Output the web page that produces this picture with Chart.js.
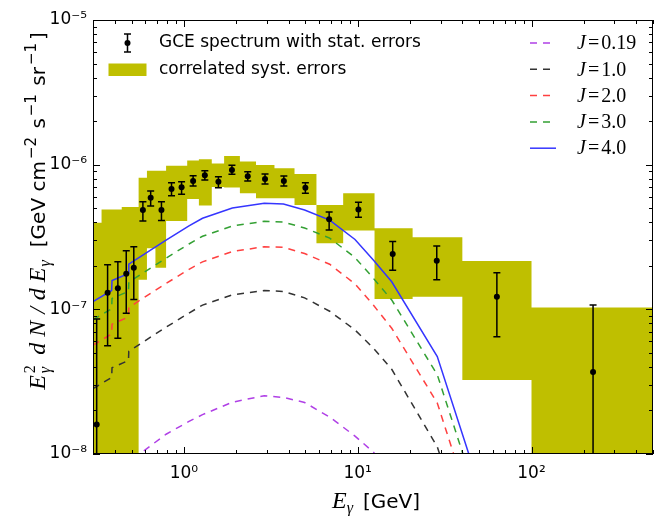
<!DOCTYPE html>
<html>
<head>
<meta charset="utf-8">
<script src="https://cdn.jsdelivr.net/npm/chart.js@4.4.1/dist/chart.umd.min.js"></script>
<style>
  body { margin: 0; background: #fff; }
</style>
</head>
<body>
<canvas id="chart" width="663" height="516"></canvas>
<script>
// GCE spectrum, points with stat. errors (GeV, GeV cm^-2 s^-1 sr^-1)
var energies = [0.315, 0.364, 0.417, 0.466, 0.515, 0.581, 0.644, 0.743, 0.849, 0.97, 1.13, 1.32,
                1.58, 1.89, 2.33, 2.93, 3.76, 5.0, 6.85, 10.1, 15.9, 28.5, 63.2, 226];
var flux = [1.60e-8, 1.30e-7, 1.40e-7, 1.76e-7, 1.94e-7, 4.86e-7, 5.91e-7, 4.86e-7, 6.79e-7, 6.98e-7, 7.71e-7, 8.44e-7,
            7.62e-7, 9.19e-7, 8.31e-7, 7.96e-7, 7.71e-7, 6.93e-7, 4.19e-7, 4.89e-7, 2.41e-7, 2.17e-7, 1.22e-7, 3.69e-8];
var fluxHi = [8.58e-8, 2.03e-7, 2.13e-7, 2.54e-7, 2.71e-7, 5.55e-7, 6.58e-7, 5.55e-7, 7.5e-7, 7.62e-7, 8.39e-7, 9.08e-7,
              8.26e-7, 9.9e-7, 8.94e-7, 8.62e-7, 8.35e-7, 7.5e-7, 4.71e-7, 5.49e-7, 2.94e-7, 2.74e-7, 1.79e-7, 1.07e-7];
var fluxLo = [1e-9, 5.61e-8, 6.31e-8, 9.39e-8, 1.17e-7, 4.08e-7, 5.18e-7, 4.11e-7, 6.1e-7, 6.24e-7, 7.12e-7, 7.83e-7,
              6.93e-7, 8.58e-7, 7.71e-7, 7.35e-7, 7.12e-7, 6.34e-7, 3.53e-7, 4.33e-7, 1.86e-7, 1.6e-7, 6.47e-8, 1e-9];

// correlated systematic errors: bin edges, upper and lower limits per bin
var bandEdges = [0.3, 0.336, 0.439, 0.549, 0.613, 0.686, 0.79, 1.045, 1.22, 1.447, 1.704,
                 2.10, 2.60, 3.32, 4.33, 5.79, 8.25, 12.5, 20.7, 40, 100, 500];
var bandTop = [3.97e-7, 4.89e-7, 5.10e-7, 8.13e-7, 9.08e-7, 9.08e-7, 9.82e-7, 1.07e-6, 1.09e-6, 1.02e-6, 1.15e-6,
               1.05e-6, 9.95e-7, 9.44e-7, 8.62e-7, 5.26e-7, 6.34e-7, 3.63e-7, 3.15e-7, 2.16e-7, 1.03e-7];
var bandLow = [1e-9, 1e-9, 1e-9, 1.60e-7, 2.64e-7, 1.94e-7, 4.08e-7, 5.79e-7, 5.22e-7, 7.01e-7, 6.95e-7,
               6.34e-7, 5.86e-7, 5.86e-7, 5.26e-7, 2.86e-7, 3.50e-7, 1.18e-7, 1.22e-7, 3.25e-8, 1e-9];

// model spectra for several J
var modelE = [0.3, 0.384, 0.386, 0.48, 0.482, 0.79, 1.07, 1.28, 1.9, 2.9, 3.74, 4.95, 6.9, 9.65, 12.3, 15.7, 28.7, 63];
var modelJ019 = [4.8e-9, 5.8e-9, 6.8e-9, 7.6e-9, 8.8e-9, 1.37e-8, 1.68e-8, 1.87e-8, 2.28e-8, 2.53e-8, 2.46e-8,
                 2.27e-8, 1.8e-8, 1.33e-8, 1.03e-8, 7.2e-9, 2.2e-9, 1.2e-10];
var modelJ1 = [2.83e-8, 3.38e-8, 3.95e-8, 4.43e-8, 5.13e-8, 7.53e-8, 9.43e-8, 1.07e-7, 1.26e-7, 1.35e-7, 1.33e-7,
               1.2e-7, 9.7e-8, 7.2e-8, 5.4e-8, 3.85e-8, 1.12e-8, 6.4e-10];
var modelJ2 = [5.65e-8, 6.75e-8, 7.9e-8, 8.85e-8, 1.03e-7, 1.51e-7, 1.89e-7, 2.13e-7, 2.51e-7, 2.71e-7, 2.68e-7,
               2.43e-7, 2.05e-7, 1.5e-7, 1.07e-7, 7.4e-8, 2.25e-8, 1.2e-9];
var modelJ3 = [8.48e-8, 1.01e-7, 1.19e-7, 1.33e-7, 1.54e-7, 2.26e-7, 2.83e-7, 3.20e-7, 3.77e-7, 4.06e-7, 4.01e-7,
               3.65e-7, 3.11e-7, 2.28e-7, 1.64e-7, 1.16e-7, 3.53e-8, 1.91e-9];
var modelJ4 = [1.13e-7, 1.35e-7, 1.58e-7, 1.77e-7, 2.05e-7, 3.01e-7, 3.77e-7, 4.26e-7, 5.02e-7, 5.41e-7, 5.35e-7,
               4.86e-7, 4.14e-7, 3.04e-7, 2.19e-7, 1.55e-7, 4.71e-8, 2.55e-9];

var jLabels = ['0.19', '1.0', '2.0', '3.0', '4.0'];
var xTickVals = [1, 10, 100];
var yTickVals = [1e-8, 1e-7, 1e-6, 1e-5];

var bandColor = '#bfbf00';
var curves = [
  {j: jLabels[0], data: modelJ019, color: '#b040e6', dash: [7, 6]},
  {j: jLabels[1], data: modelJ1, color: '#333333', dash: [7, 6]},
  {j: jLabels[2], data: modelJ2, color: '#ff4040', dash: [7, 6]},
  {j: jLabels[3], data: modelJ3, color: '#33a033', dash: [7, 6]},
  {j: jLabels[4], data: modelJ4, color: '#3535ff', dash: []}
];

function pairs(xs, ys) {
  return xs.map(function (x, i) { return {x: x, y: ys[i]}; });
}
function stepPoints(edges, vals) {
  var pts = pairs(edges.slice(0, vals.length), vals);
  pts.push({x: edges[edges.length - 1], y: vals[vals.length - 1]});
  return pts;
}

var supMap = {'-': '\u207b', '0': '\u2070', '1': '\u00b9', '2': '\u00b2', '3': '\u00b3', '4': '\u2074',
              '5': '\u2075', '6': '\u2076', '7': '\u2077', '8': '\u2078', '9': '\u2079'};
function powLabel(v) {
  var e = Math.round(Math.log10(v));
  return '10' + String(e).split('').map(function (c) { return supMap[c]; }).join('');
}

// draws a row of text pieces with different fonts / offsets
function drawRuns(ctx, runs, cx, cy, angle) {
  ctx.save();
  ctx.translate(cx, cy);
  ctx.rotate(angle);
  ctx.fillStyle = '#000';
  ctx.textBaseline = 'alphabetic';
  ctx.textAlign = 'left';
  var total = 0;
  runs.forEach(function (r) {
    ctx.font = r.font;
    r.w = ctx.measureText(r.text).width;
    if (!r.stack) total += (r.gap || 0) + r.w;
  });
  var x = -total / 2;
  runs.forEach(function (r) {
    ctx.font = r.font;
    x += r.gap || 0;
    ctx.fillText(r.text, x, r.dy || 0);
    if (!r.stack) x += r.w;
  });
  ctx.restore();
}

var serifI = function (s) { return 'italic ' + s + 'px "Liberation Serif"'; };
var sans = function (s) { return s + 'px "DejaVu Sans"'; };

var decor = {
  id: 'decor',
  afterDatasetsDraw: function (chart) {
    var ctx = chart.ctx, xs = chart.scales.x, ys = chart.scales.y, a = chart.chartArea;
    ctx.save();
    ctx.beginPath();
    ctx.rect(a.left, a.top, a.right - a.left, a.bottom - a.top);
    ctx.clip();
    ctx.strokeStyle = '#000';
    ctx.lineWidth = 1.5;
    energies.forEach(function (e, i) {
      var px = xs.getPixelForValue(e);
      var yh = ys.getPixelForValue(fluxHi[i]);
      var yl = ys.getPixelForValue(fluxLo[i]);
      ctx.beginPath();
      ctx.moveTo(px, yl); ctx.lineTo(px, yh);
      ctx.moveTo(px - 3.5, yh); ctx.lineTo(px + 3.5, yh);
      ctx.moveTo(px - 3.5, yl); ctx.lineTo(px + 3.5, yl);
      ctx.stroke();
    });
    ctx.restore();
  },
  afterDraw: function (chart) {
    var ctx = chart.ctx, xs = chart.scales.x, ys = chart.scales.y, a = chart.chartArea;
    ctx.save();
    // frame
    ctx.strokeStyle = '#000';
    ctx.lineWidth = 1;
    ctx.strokeRect(Math.round(a.left) + 0.5, Math.round(a.top) + 0.5,
                   Math.round(a.right - a.left) - 1, Math.round(a.bottom - a.top) - 1);
    // inward ticks on all four sides
    ctx.beginPath();
    var k, m, v, p, len;
    for (k = -1; k <= 2; k++) {
      for (m = 1; m <= 9; m++) {
        v = m * Math.pow(10, k);
        if (v < xs.min * 0.999 || v > xs.max * 1.001) continue;
        p = Math.round(xs.getPixelForValue(v)) + 0.5;
        len = m === 1 ? 7 : 4;
        ctx.moveTo(p, a.bottom); ctx.lineTo(p, a.bottom - len);
        ctx.moveTo(p, a.top); ctx.lineTo(p, a.top + len);
      }
    }
    for (k = -8; k <= -5; k++) {
      for (m = 1; m <= 9; m++) {
        v = m * Math.pow(10, k);
        if (v < ys.min * 0.999 || v > ys.max * 1.001) continue;
        p = Math.round(ys.getPixelForValue(v)) + 0.5;
        len = m === 1 ? 7 : 4;
        ctx.moveTo(a.left, p); ctx.lineTo(a.left + len, p);
        ctx.moveTo(a.right, p); ctx.lineTo(a.right - len, p);
      }
    }
    ctx.stroke();

    // axis titles
    drawRuns(ctx, [
      {text: 'E', font: serifI(24)},
      {text: '2', font: '16px "Liberation Serif"', dy: -10, stack: true, gap: 2},
      {text: '\u03b3', font: serifI(16), dy: 5},
      {text: 'd', font: serifI(24), gap: 12},
      {text: 'N', font: serifI(24), gap: 6},
      {text: '/', font: serifI(24), gap: 7},
      {text: 'd', font: serifI(24), gap: 7},
      {text: 'E', font: serifI(24), gap: 6},
      {text: '\u03b3', font: serifI(16), dy: 5, gap: 1},
      {text: '[GeV cm', font: sans(20), gap: 13},
      {text: '\u22122', font: sans(15), dy: -9, gap: 2},
      {text: ' s', font: sans(20), gap: 2},
      {text: '\u22121', font: sans(15), dy: -9, gap: 2},
      {text: ' sr', font: sans(20), gap: 2},
      {text: '\u22121', font: sans(15), dy: -9, gap: 2},
      {text: ']', font: sans(20), gap: 3}
    ], 45, 212, -Math.PI / 2);
    drawRuns(ctx, [
      {text: 'E', font: serifI(24)},
      {text: '\u03b3', font: serifI(16), dy: 5},
      {text: '[GeV]', font: sans(20), gap: 10}
    ], 376, 508, 0);

    // legend, left block
    ctx.fillStyle = '#000';
    ctx.lineWidth = 1.5;
    ctx.beginPath();
    ctx.moveTo(127.5, 34); ctx.lineTo(127.5, 52);
    ctx.moveTo(124, 34); ctx.lineTo(131, 34);
    ctx.moveTo(124, 52); ctx.lineTo(131, 52);
    ctx.stroke();
    ctx.beginPath(); ctx.arc(127.5, 43, 3, 0, Math.PI * 2); ctx.fill();
    ctx.fillStyle = bandColor;
    ctx.fillRect(108.5, 63.5, 38, 12.5);
    ctx.fillStyle = '#000';
    ctx.font = '17px "DejaVu Sans"';
    ctx.textBaseline = 'middle';
    ctx.fillText('GCE spectrum with stat. errors', 159, 43);
    ctx.fillText('correlated syst. errors', 159, 70);

    // legend, right block
    curves.forEach(function (c, i) {
      var y = 43 + i * 26.3;
      ctx.strokeStyle = c.color;
      ctx.lineWidth = 1.5;
      ctx.setLineDash(c.dash);
      ctx.beginPath(); ctx.moveTo(530, y); ctx.lineTo(556, y); ctx.stroke();
      ctx.setLineDash([]);
      ctx.fillStyle = '#000';
      ctx.textBaseline = 'middle';
      ctx.font = 'italic 20px "Liberation Serif"';
      ctx.fillText('J', 577, y + 1);
      var x = 577 + ctx.measureText('J').width + 2;
      ctx.font = '20px "Liberation Serif"';
      ctx.fillText('=', x, y + 1);
      x += ctx.measureText('=').width + 2;
      ctx.fillText(c.j, x, y + 1);
    });
    ctx.restore();
  }
};

var datasets = [
  {data: stepPoints(bandEdges, bandTop), showLine: true, stepped: true, borderWidth: 0,
   pointRadius: 0, backgroundColor: bandColor, borderColor: bandColor, fill: false, order: 10},
  {data: stepPoints(bandEdges, bandLow), showLine: true, stepped: true, borderWidth: 0,
   pointRadius: 0, backgroundColor: bandColor, borderColor: bandColor, fill: '-1', order: 10}
];
curves.forEach(function (c) {
  datasets.push({data: pairs(modelE, c.data), showLine: true, borderColor: c.color, borderWidth: 1.5,
                 borderDash: c.dash, pointRadius: 0, fill: false, order: 5});
});
datasets.push({data: pairs(energies, flux), showLine: false, pointRadius: 3, pointBorderWidth: 0,
               pointBackgroundColor: '#000', borderColor: '#000', order: 1});

new Chart(document.getElementById('chart'), {
  type: 'scatter',
  data: {datasets: datasets},
  options: {
    responsive: false,
    animation: false,
    events: [],
    layout: {padding: {top: 20, right: 10, left: 0, bottom: 0}},
    plugins: {legend: {display: false}, tooltip: {enabled: false}},
    scales: {
      x: {
        type: 'logarithmic', min: 0.3, max: 500,
        afterBuildTicks: function (s) { s.ticks = xTickVals.map(function (v) { return {value: v}; }); },
        afterFit: function (s) { s.height = 62; },
        grid: {display: false, drawTicks: false},
        border: {display: false},
        ticks: {callback: powLabel, color: '#000', padding: 9, maxRotation: 0, autoSkip: false,
                font: {family: 'DejaVu Sans', size: 17}}
      },
      y: {
        type: 'logarithmic', min: 1e-8, max: 1e-5,
        afterBuildTicks: function (s) { s.ticks = yTickVals.map(function (v) { return {value: v}; }); },
        afterFit: function (s) { s.width = 93; },
        grid: {display: false, drawTicks: false},
        border: {display: false},
        ticks: {callback: powLabel, color: '#000', padding: 6, autoSkip: false,
                font: {family: 'DejaVu Sans', size: 17}}
      }
    }
  },
  plugins: [decor]
});
</script>
</body>
</html>
